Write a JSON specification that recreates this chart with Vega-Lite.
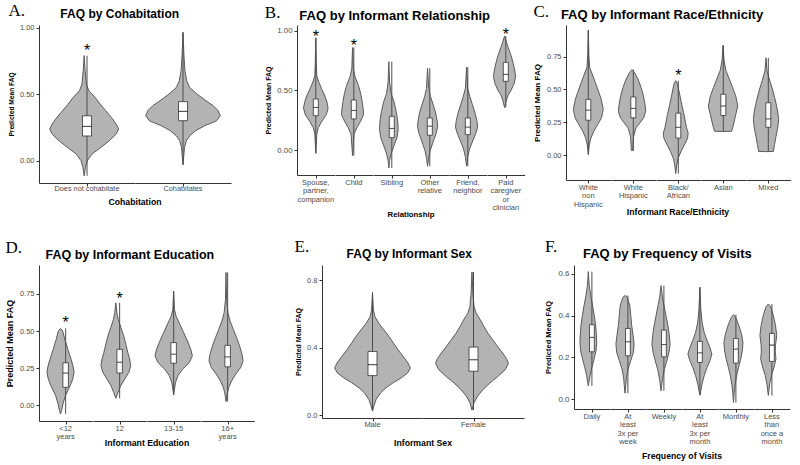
{
  "$schema": "https://vega.github.io/schema/vega-lite/v6.json",
  "background": "white",
  "padding": {"left": 5, "top": 1, "right": 4, "bottom": 0},
  "datasets": {
    "A": [
      {"c":"Does not cohabitate","y":-0.113,"w":0},{"c":"Does not cohabitate","y":-0.05,"w":0.033},{"c":"Does not cohabitate","y":0,"w":0.083},{"c":"Does not cohabitate","y":0.05,"w":0.209},{"c":"Does not cohabitate","y":0.1,"w":0.446},{"c":"Does not cohabitate","y":0.15,"w":0.672},{"c":"Does not cohabitate","y":0.2,"w":0.856},{"c":"Does not cohabitate","y":0.238,"w":0.924},{"c":"Does not cohabitate","y":0.276,"w":0.856},{"c":"Does not cohabitate","y":0.326,"w":0.73},{"c":"Does not cohabitate","y":0.376,"w":0.579},{"c":"Does not cohabitate","y":0.426,"w":0.428},{"c":"Does not cohabitate","y":0.476,"w":0.295},{"c":"Does not cohabitate","y":0.526,"w":0.126},{"c":"Does not cohabitate","y":0.576,"w":0.058},{"c":"Does not cohabitate","y":0.677,"w":0.025},{"c":"Does not cohabitate","y":0.79,"w":0},
      {"c":"Cohabitates","y":-0.03,"w":0},{"c":"Cohabitates","y":0.101,"w":0.04},{"c":"Cohabitates","y":0.151,"w":0.09},{"c":"Cohabitates","y":0.188,"w":0.18},{"c":"Cohabitates","y":0.226,"w":0.34},{"c":"Cohabitates","y":0.263,"w":0.58},{"c":"Cohabitates","y":0.3,"w":0.9},{"c":"Cohabitates","y":0.338,"w":1},{"c":"Cohabitates","y":0.377,"w":0.94},{"c":"Cohabitates","y":0.414,"w":0.81},{"c":"Cohabitates","y":0.45,"w":0.62},{"c":"Cohabitates","y":0.5,"w":0.38},{"c":"Cohabitates","y":0.55,"w":0.18},{"c":"Cohabitates","y":0.6,"w":0.1},{"c":"Cohabitates","y":0.678,"w":0.05},{"c":"Cohabitates","y":0.8,"w":0.024},{"c":"Cohabitates","y":0.965,"w":0},
      {"c":"Does not cohabitate","q1":0.186,"med":0.258,"q3":0.338,"lo":-0.113,"hi":0.79,"star":0.857},
      {"c":"Cohabitates","q1":0.301,"med":0.371,"q3":0.444,"lo":-0.03,"hi":0.965}
    ],
    "B": [
      {"c":"Spouse, partner, companion","y":-0.027,"w":0},{"c":"Spouse, partner, companion","y":0.132,"w":0.078},{"c":"Spouse, partner, companion","y":0.187,"w":0.198},{"c":"Spouse, partner, companion","y":0.242,"w":0.497},{"c":"Spouse, partner, companion","y":0.297,"w":0.856},{"c":"Spouse, partner, companion","y":0.352,"w":1},{"c":"Spouse, partner, companion","y":0.407,"w":0.898},{"c":"Spouse, partner, companion","y":0.462,"w":0.701},{"c":"Spouse, partner, companion","y":0.516,"w":0.461},{"c":"Spouse, partner, companion","y":0.571,"w":0.24},{"c":"Spouse, partner, companion","y":0.626,"w":0.078},{"c":"Spouse, partner, companion","y":0.736,"w":0.042},{"c":"Spouse, partner, companion","y":0.942,"w":0},
      {"c":"Child","y":-0.047,"w":0},{"c":"Child","y":0.133,"w":0.12},{"c":"Child","y":0.188,"w":0.359},{"c":"Child","y":0.243,"w":0.659},{"c":"Child","y":0.298,"w":0.898},{"c":"Child","y":0.353,"w":0.856},{"c":"Child","y":0.408,"w":0.778},{"c":"Child","y":0.475,"w":0.659},{"c":"Child","y":0.544,"w":0.479},{"c":"Child","y":0.613,"w":0.21},{"c":"Child","y":0.681,"w":0.06},{"c":"Child","y":0.86,"w":0},
      {"c":"Sibling","y":-0.151,"w":0},{"c":"Sibling","y":-0.088,"w":0.06},{"c":"Sibling","y":-0.033,"w":0.18},{"c":"Sibling","y":0.036,"w":0.419},{"c":"Sibling","y":0.104,"w":0.659},{"c":"Sibling","y":0.173,"w":0.76},{"c":"Sibling","y":0.244,"w":0.719},{"c":"Sibling","y":0.324,"w":0.599},{"c":"Sibling","y":0.406,"w":0.419},{"c":"Sibling","y":0.476,"w":0.18},{"c":"Sibling","y":0.572,"w":0.06},{"c":"Sibling","y":0.742,"w":0},
      {"c":"Other relative","y":-0.137,"w":0},{"c":"Other relative","y":-0.074,"w":0.078},{"c":"Other relative","y":-0.005,"w":0.21},{"c":"Other relative","y":0.077,"w":0.479},{"c":"Other relative","y":0.146,"w":0.719},{"c":"Other relative","y":0.2,"w":0.82},{"c":"Other relative","y":0.245,"w":0.778},{"c":"Other relative","y":0.31,"w":0.659},{"c":"Other relative","y":0.379,"w":0.461},{"c":"Other relative","y":0.448,"w":0.24},{"c":"Other relative","y":0.517,"w":0.09},{"c":"Other relative","y":0.687,"w":0},
      {"c":"Friend, neighbor","y":-0.136,"w":0},{"c":"Friend, neighbor","y":-0.06,"w":0.09},{"c":"Friend, neighbor","y":0.008,"w":0.24},{"c":"Friend, neighbor","y":0.078,"w":0.509},{"c":"Friend, neighbor","y":0.147,"w":0.778},{"c":"Friend, neighbor","y":0.192,"w":0.898},{"c":"Friend, neighbor","y":0.246,"w":0.838},{"c":"Friend, neighbor","y":0.311,"w":0.689},{"c":"Friend, neighbor","y":0.38,"w":0.479},{"c":"Friend, neighbor","y":0.449,"w":0.269},{"c":"Friend, neighbor","y":0.518,"w":0.09},{"c":"Friend, neighbor","y":0.695,"w":0},
      {"c":"Paid caregiver or clinician","y":0.357,"w":0},{"c":"Paid caregiver or clinician","y":0.42,"w":0.15},{"c":"Paid caregiver or clinician","y":0.463,"w":0.299},{"c":"Paid caregiver or clinician","y":0.503,"w":0.539},{"c":"Paid caregiver or clinician","y":0.558,"w":0.778},{"c":"Paid caregiver or clinician","y":0.614,"w":0.898},{"c":"Paid caregiver or clinician","y":0.654,"w":0.856},{"c":"Paid caregiver or clinician","y":0.723,"w":0.719},{"c":"Paid caregiver or clinician","y":0.791,"w":0.539},{"c":"Paid caregiver or clinician","y":0.861,"w":0.299},{"c":"Paid caregiver or clinician","y":0.915,"w":0.12},{"c":"Paid caregiver or clinician","y":0.956,"w":0},
      {"c":"Spouse, partner, companion","q1":0.288,"med":0.357,"q3":0.429,"lo":-0.027,"hi":0.942,"star":0.98},
      {"c":"Child","q1":0.261,"med":0.332,"q3":0.42,"lo":-0.047,"hi":0.86,"star":0.907},
      {"c":"Sibling","q1":0.104,"med":0.181,"q3":0.283,"lo":-0.151,"hi":0.742},
      {"c":"Other relative","q1":0.124,"med":0.2,"q3":0.269,"lo":-0.137,"hi":0.687},
      {"c":"Friend, neighbor","q1":0.129,"med":0.192,"q3":0.269,"lo":-0.136,"hi":0.695},
      {"c":"Paid caregiver or clinician","q1":0.577,"med":0.635,"q3":0.736,"lo":0.357,"hi":0.956,"star":0.997}
    ],
    "C": [
      {"c":"White non Hispanic","y":0.005,"w":0},{"c":"White non Hispanic","y":0.077,"w":0.067},{"c":"White non Hispanic","y":0.129,"w":0.171},{"c":"White non Hispanic","y":0.18,"w":0.363},{"c":"White non Hispanic","y":0.231,"w":0.622},{"c":"White non Hispanic","y":0.283,"w":0.881},{"c":"White non Hispanic","y":0.347,"w":1},{"c":"White non Hispanic","y":0.424,"w":0.865},{"c":"White non Hispanic","y":0.488,"w":0.674},{"c":"White non Hispanic","y":0.553,"w":0.466},{"c":"White non Hispanic","y":0.617,"w":0.259},{"c":"White non Hispanic","y":0.668,"w":0.088},{"c":"White non Hispanic","y":0.771,"w":0.036},{"c":"White non Hispanic","y":0.951,"w":0},
      {"c":"White Hispanic","y":0.031,"w":0},{"c":"White Hispanic","y":0.039,"w":0.052},{"c":"White Hispanic","y":0.078,"w":0.067},{"c":"White Hispanic","y":0.141,"w":0.104},{"c":"White Hispanic","y":0.206,"w":0.259},{"c":"White Hispanic","y":0.244,"w":0.518},{"c":"White Hispanic","y":0.284,"w":0.777},{"c":"White Hispanic","y":0.334,"w":0.917},{"c":"White Hispanic","y":0.386,"w":0.865},{"c":"White Hispanic","y":0.45,"w":0.762},{"c":"White Hispanic","y":0.514,"w":0.606},{"c":"White Hispanic","y":0.578,"w":0.399},{"c":"White Hispanic","y":0.63,"w":0.155},{"c":"White Hispanic","y":0.65,"w":0},
      {"c":"Black/African","y":-0.141,"w":0},{"c":"Black/African","y":-0.077,"w":0.067},{"c":"Black/African","y":-0.026,"w":0.155},{"c":"Black/African","y":0.026,"w":0.347},{"c":"Black/African","y":0.076,"w":0.57},{"c":"Black/African","y":0.128,"w":0.793},{"c":"Black/African","y":0.167,"w":0.829},{"c":"Black/African","y":0.207,"w":0.725},{"c":"Black/African","y":0.257,"w":0.637},{"c":"Black/African","y":0.308,"w":0.554},{"c":"Black/African","y":0.385,"w":0.399},{"c":"Black/African","y":0.463,"w":0.259},{"c":"Black/African","y":0.54,"w":0.119},{"c":"Black/African","y":0.566,"w":0},
      {"c":"Asian","y":0.18,"w":0},{"c":"Asian","y":0.181,"w":0.57},{"c":"Asian","y":0.211,"w":0.65},{"c":"Asian","y":0.258,"w":0.75},{"c":"Asian","y":0.309,"w":0.85},{"c":"Asian","y":0.373,"w":0.984},{"c":"Asian","y":0.451,"w":0.845},{"c":"Asian","y":0.515,"w":0.637},{"c":"Asian","y":0.579,"w":0.415},{"c":"Asian","y":0.643,"w":0.192},{"c":"Asian","y":0.72,"w":0.067},{"c":"Asian","y":0.835,"w":0},
      {"c":"Mixed","y":0.026,"w":0},{"c":"Mixed","y":0.027,"w":0.49},{"c":"Mixed","y":0.079,"w":0.57},{"c":"Mixed","y":0.142,"w":0.67},{"c":"Mixed","y":0.205,"w":0.78},{"c":"Mixed","y":0.27,"w":0.845},{"c":"Mixed","y":0.335,"w":0.777},{"c":"Mixed","y":0.411,"w":0.637},{"c":"Mixed","y":0.487,"w":0.466},{"c":"Mixed","y":0.565,"w":0.259},{"c":"Mixed","y":0.642,"w":0.067},{"c":"Mixed","y":0.74,"w":0},
      {"c":"White non Hispanic","q1":0.265,"med":0.342,"q3":0.424,"lo":0.005,"hi":0.951},
      {"c":"White Hispanic","q1":0.283,"med":0.355,"q3":0.442,"lo":0.031,"hi":0.65},
      {"c":"Black/African","q1":0.129,"med":0.211,"q3":0.319,"lo":-0.141,"hi":0.566,"star":0.63},
      {"c":"Asian","q1":0.301,"med":0.373,"q3":0.463,"lo":0.18,"hi":0.835},
      {"c":"Mixed","q1":0.211,"med":0.275,"q3":0.398,"lo":0.026,"hi":0.74}
    ],
    "D": [
      {"c":"<12 years","y":-0.058,"w":0},{"c":"<12 years","y":-0.036,"w":0.057},{"c":"<12 years","y":0.009,"w":0.13},{"c":"<12 years","y":0.065,"w":0.261},{"c":"<12 years","y":0.121,"w":0.478},{"c":"<12 years","y":0.176,"w":0.652},{"c":"<12 years","y":0.221,"w":0.726},{"c":"<12 years","y":0.266,"w":0.665},{"c":"<12 years","y":0.31,"w":0.565},{"c":"<12 years","y":0.377,"w":0.391},{"c":"<12 years","y":0.444,"w":0.23},{"c":"<12 years","y":0.5,"w":0.117},{"c":"<12 years","y":0.518,"w":0},
      {"c":"12","y":0.047,"w":0},{"c":"12","y":0.087,"w":0.117},{"c":"12","y":0.132,"w":0.261},{"c":"12","y":0.177,"w":0.478},{"c":"12","y":0.222,"w":0.696},{"c":"12","y":0.267,"w":0.796},{"c":"12","y":0.311,"w":0.739},{"c":"12","y":0.355,"w":0.639},{"c":"12","y":0.411,"w":0.535},{"c":"12","y":0.467,"w":0.422},{"c":"12","y":0.522,"w":0.274},{"c":"12","y":0.578,"w":0.13},{"c":"12","y":0.623,"w":0.057},{"c":"12","y":0.69,"w":0},
      {"c":"13-15","y":0.069,"w":0},{"c":"13-15","y":0.109,"w":0.043},{"c":"13-15","y":0.154,"w":0.1},{"c":"13-15","y":0.199,"w":0.23},{"c":"13-15","y":0.243,"w":0.478},{"c":"13-15","y":0.288,"w":0.839},{"c":"13-15","y":0.333,"w":1},{"c":"13-15","y":0.378,"w":0.913},{"c":"13-15","y":0.433,"w":0.739},{"c":"13-15","y":0.489,"w":0.535},{"c":"13-15","y":0.545,"w":0.335},{"c":"13-15","y":0.6,"w":0.13},{"c":"13-15","y":0.645,"w":0.043},{"c":"13-15","y":0.768,"w":0},
      {"c":"16+ years","y":0.025,"w":0},{"c":"16+ years","y":0.076,"w":0.057},{"c":"16+ years","y":0.12,"w":0.143},{"c":"16+ years","y":0.165,"w":0.304},{"c":"16+ years","y":0.21,"w":0.522},{"c":"16+ years","y":0.254,"w":0.783},{"c":"16+ years","y":0.299,"w":0.913},{"c":"16+ years","y":0.344,"w":0.857},{"c":"16+ years","y":0.4,"w":0.726},{"c":"16+ years","y":0.455,"w":0.565},{"c":"16+ years","y":0.511,"w":0.391},{"c":"16+ years","y":0.567,"w":0.217},{"c":"16+ years","y":0.624,"w":0.1},{"c":"16+ years","y":0.712,"w":0.03},{"c":"16+ years","y":0.895,"w":0},
      {"c":"<12 years","q1":0.121,"med":0.217,"q3":0.286,"lo":-0.058,"hi":0.518,"star":0.583},
      {"c":"12","q1":0.217,"med":0.29,"q3":0.377,"lo":0.047,"hi":0.69,"star":0.746},
      {"c":"13-15","q1":0.283,"med":0.344,"q3":0.422,"lo":0.069,"hi":0.768},
      {"c":"16+ years","q1":0.259,"med":0.326,"q3":0.404,"lo":0.025,"hi":0.895}
    ],
    "E": [
      {"c":"Male","y":0.025,"w":0},{"c":"Male","y":0.055,"w":0.036},{"c":"Male","y":0.094,"w":0.095},{"c":"Male","y":0.133,"w":0.214},{"c":"Male","y":0.163,"w":0.357},{"c":"Male","y":0.193,"w":0.548},{"c":"Male","y":0.222,"w":0.762},{"c":"Male","y":0.251,"w":0.929},{"c":"Male","y":0.28,"w":1},{"c":"Male","y":0.31,"w":0.936},{"c":"Male","y":0.349,"w":0.81},{"c":"Male","y":0.388,"w":0.674},{"c":"Male","y":0.427,"w":0.555},{"c":"Male","y":0.467,"w":0.436},{"c":"Male","y":0.506,"w":0.302},{"c":"Male","y":0.545,"w":0.167},{"c":"Male","y":0.584,"w":0.064},{"c":"Male","y":0.624,"w":0.024},{"c":"Male","y":0.727,"w":0},
      {"c":"Female","y":0.031,"w":0},{"c":"Female","y":0.075,"w":0.055},{"c":"Female","y":0.114,"w":0.15},{"c":"Female","y":0.153,"w":0.293},{"c":"Female","y":0.192,"w":0.476},{"c":"Female","y":0.231,"w":0.69},{"c":"Female","y":0.271,"w":0.881},{"c":"Female","y":0.306,"w":0.96},{"c":"Female","y":0.329,"w":0.929},{"c":"Female","y":0.369,"w":0.81},{"c":"Female","y":0.408,"w":0.674},{"c":"Female","y":0.447,"w":0.548},{"c":"Female","y":0.486,"w":0.421},{"c":"Female","y":0.525,"w":0.317},{"c":"Female","y":0.565,"w":0.221},{"c":"Female","y":0.604,"w":0.112},{"c":"Female","y":0.643,"w":0.055},{"c":"Female","y":0.722,"w":0.024},{"c":"Female","y":0.849,"w":0},
      {"c":"Male","q1":0.235,"med":0.3,"q3":0.378,"lo":0.025,"hi":0.727},
      {"c":"Female","q1":0.261,"med":0.329,"q3":0.404,"lo":0.031,"hi":0.849}
    ],
    "F": [
      {"c":"Daily","y":0.064,"w":0},{"c":"Daily","y":0.112,"w":0.138},{"c":"Daily","y":0.152,"w":0.299},{"c":"Daily","y":0.192,"w":0.479},{"c":"Daily","y":0.232,"w":0.641},{"c":"Daily","y":0.272,"w":0.701},{"c":"Daily","y":0.304,"w":0.677},{"c":"Daily","y":0.352,"w":0.617},{"c":"Daily","y":0.4,"w":0.497},{"c":"Daily","y":0.448,"w":0.359},{"c":"Daily","y":0.496,"w":0.198},{"c":"Daily","y":0.544,"w":0.078},{"c":"Daily","y":0.611,"w":0},
      {"c":"At least 3x per week","y":0.029,"w":0},{"c":"At least 3x per week","y":0.065,"w":0.06},{"c":"At least 3x per week","y":0.105,"w":0.12},{"c":"At least 3x per week","y":0.145,"w":0.257},{"c":"At least 3x per week","y":0.185,"w":0.479},{"c":"At least 3x per week","y":0.225,"w":0.701},{"c":"At least 3x per week","y":0.265,"w":0.76},{"c":"At least 3x per week","y":0.305,"w":0.677},{"c":"At least 3x per week","y":0.353,"w":0.557},{"c":"At least 3x per week","y":0.401,"w":0.479},{"c":"At least 3x per week","y":0.449,"w":0.401},{"c":"At least 3x per week","y":0.488,"w":0.18},{"c":"At least 3x per week","y":0.497,"w":0},
      {"c":"Weekly","y":0.04,"w":0},{"c":"Weekly","y":0.096,"w":0.12},{"c":"Weekly","y":0.143,"w":0.281},{"c":"Weekly","y":0.183,"w":0.479},{"c":"Weekly","y":0.223,"w":0.659},{"c":"Weekly","y":0.263,"w":0.76},{"c":"Weekly","y":0.303,"w":0.701},{"c":"Weekly","y":0.351,"w":0.581},{"c":"Weekly","y":0.399,"w":0.419},{"c":"Weekly","y":0.447,"w":0.257},{"c":"Weekly","y":0.487,"w":0.12},{"c":"Weekly","y":0.544,"w":0},
      {"c":"At least 3x per month","y":0.019,"w":0},{"c":"At least 3x per month","y":0.041,"w":0.078},{"c":"At least 3x per month","y":0.073,"w":0.18},{"c":"At least 3x per month","y":0.113,"w":0.359},{"c":"At least 3x per month","y":0.153,"w":0.599},{"c":"At least 3x per month","y":0.184,"w":0.838},{"c":"At least 3x per month","y":0.216,"w":1},{"c":"At least 3x per month","y":0.248,"w":0.838},{"c":"At least 3x per month","y":0.281,"w":0.599},{"c":"At least 3x per month","y":0.32,"w":0.359},{"c":"At least 3x per month","y":0.368,"w":0.18},{"c":"At least 3x per month","y":0.432,"w":0.078},{"c":"At least 3x per month","y":0.536,"w":0},
      {"c":"Monthly","y":-0.016,"w":0},{"c":"Monthly","y":0.032,"w":0.06},{"c":"Monthly","y":0.071,"w":0.138},{"c":"Monthly","y":0.111,"w":0.257},{"c":"Monthly","y":0.151,"w":0.419},{"c":"Monthly","y":0.191,"w":0.599},{"c":"Monthly","y":0.231,"w":0.737},{"c":"Monthly","y":0.271,"w":0.796},{"c":"Monthly","y":0.311,"w":0.677},{"c":"Monthly","y":0.352,"w":0.461},{"c":"Monthly","y":0.392,"w":0.18},{"c":"Monthly","y":0.405,"w":0},
      {"c":"Less than once a month","y":0.018,"w":0},{"c":"Less than once a month","y":0.074,"w":0.12},{"c":"Less than once a month","y":0.114,"w":0.257},{"c":"Less than once a month","y":0.154,"w":0.479},{"c":"Less than once a month","y":0.194,"w":0.641},{"c":"Less than once a month","y":0.226,"w":0.581},{"c":"Less than once a month","y":0.258,"w":0.599},{"c":"Less than once a month","y":0.306,"w":0.701},{"c":"Less than once a month","y":0.354,"w":0.599},{"c":"Less than once a month","y":0.402,"w":0.419},{"c":"Less than once a month","y":0.442,"w":0.198},{"c":"Less than once a month","y":0.456,"w":0},
      {"c":"Daily","q1":0.227,"med":0.296,"q3":0.357,"lo":0.064,"hi":0.611},
      {"c":"At least 3x per week","q1":0.208,"med":0.275,"q3":0.339,"lo":0.029,"hi":0.497},
      {"c":"Weekly","q1":0.203,"med":0.262,"q3":0.331,"lo":0.04,"hi":0.544},
      {"c":"At least 3x per month","q1":0.176,"med":0.222,"q3":0.277,"lo":0.019,"hi":0.536},
      {"c":"Monthly","q1":0.173,"med":0.24,"q3":0.291,"lo":-0.016,"hi":0.405},
      {"c":"Less than once a month","q1":0.181,"med":0.259,"q3":0.315,"lo":0.018,"hi":0.456}
    ]
  },
  "vconcat": [
    {
      "spacing": 33,
      "hconcat": [
        {
          "title": {"text": "A.", "font": "Liberation Serif", "fontSize": 17, "fontWeight": "normal", "anchor": "start", "offset": -12},
          "vconcat": [{
            "data": {"name": "A"},
            "title": {"text": "FAQ by Cohabitation", "fontSize": 12, "anchor": "middle", "offset": 3},
            "spacing": 0,
            "facet": {"column": {"field": "c", "type": "nominal", "title": "Cohabitation", "sort": ["Does not cohabitate", "Cohabitates"],
              "header": {"labelOrient": "bottom", "titleOrient": "bottom", "labelPadding": -2, "labelFontSize": 7.3, "labelColor": "#4d4d4d", "titleFontSize": 8.7, "titleFontWeight": "bold", "titlePadding": -4}}},
            "spec": {
              "width": 96, "height": 158,
              "layer": [
                {"transform": [{"filter": "isValid(datum.w)"}],
                 "mark": {"type": "area", "orient": "horizontal", "fill": "#b3b3b3", "stroke": "#5a5a5a", "strokeWidth": 1},
                 "encoding": {
                   "y": {"field": "y", "type": "quantitative", "title": "Predicted Mean FAQ", "scale": {"domain": [-0.167, 1.02], "nice": false, "zero": false}, "axis": {"values": [0, 0.25, 0.5, 0.75, 1], "format": ".2f", "titleFontSize": 6.6}},
                   "x": {"field": "w", "type": "quantitative", "stack": "center", "impute": null, "title": null, "scale": {"domain": [-0.076, 1.076], "nice": false, "zero": false}, "axis": {"values": [0.5], "labels": false, "grid": false, "ticks": true}}}},
                {"transform": [{"filter": "isValid(datum.q1)"}], "mark": {"type": "rule", "color": "#4d4d4d", "strokeWidth": 1},
                 "encoding": {"x": {"datum": 0.5, "type": "quantitative", "title": null}, "y": {"field": "lo", "type": "quantitative", "title": "Predicted Mean FAQ"}, "y2": {"field": "hi"}}},
                {"transform": [{"filter": "isValid(datum.q1)"}], "mark": {"type": "bar", "size": 9, "fill": "white", "stroke": "#333333", "strokeWidth": 0.8},
                 "encoding": {"x": {"datum": 0.5, "type": "quantitative", "title": null}, "y": {"field": "q1", "type": "quantitative", "title": "Predicted Mean FAQ"}, "y2": {"field": "q3"}}},
                {"transform": [{"filter": "isValid(datum.q1)"}], "mark": {"type": "tick", "orient": "horizontal", "size": 9, "thickness": 1.2, "color": "#111111"},
                 "encoding": {"x": {"datum": 0.5, "type": "quantitative", "title": null}, "y": {"field": "med", "type": "quantitative", "title": "Predicted Mean FAQ"}}},
                {"transform": [{"filter": "isValid(datum.star)"}], "mark": {"type": "text", "text": "*", "fontSize": 16, "baseline": "middle", "dy": 4, "color": "#000000"},
                 "encoding": {"x": {"datum": 0.5, "type": "quantitative", "title": null}, "y": {"field": "star", "type": "quantitative", "title": "Predicted Mean FAQ"}}}
              ]
            }
          }]
        },
        {
          "spacing": 8,
          "hconcat": [
            {
              "title": {"text": "B.", "font": "Liberation Serif", "fontSize": 17, "fontWeight": "normal", "anchor": "start", "offset": -12},
              "vconcat": [{
                "data": {"name": "B"},
                "title": {"text": "FAQ by Informant Relationship", "fontSize": 13, "anchor": "middle", "offset": 2},
                "spacing": 0,
                "facet": {"column": {"field": "c", "type": "nominal", "title": "Relationship", "sort": ["Spouse, partner, companion", "Child", "Sibling", "Other relative", "Friend, neighbor", "Paid caregiver or clinician"],
                  "header": {"labelOrient": "bottom", "titleOrient": "bottom", "labelPadding": 0, "labelFontSize": 7.5, "labelColor": "#4d4d4d", "labelLineHeight": 8.5, "labelExpr": "split(datum.label, ' ')", "titleFontSize": 7.8, "titleFontWeight": "bold", "titlePadding": -11}}},
                "spec": {
                  "width": 37.6, "height": 150,
                  "layer": [
                    {"transform": [{"filter": "isValid(datum.w)"}],
                     "mark": {"type": "area", "orient": "horizontal", "fill": "#b3b3b3", "stroke": "#5a5a5a", "strokeWidth": 1},
                     "encoding": {
                       "y": {"field": "y", "type": "quantitative", "title": "Predicted Mean FAQ", "scale": {"domain": [-0.21, 1.05], "nice": false, "zero": false}, "axis": {"values": [0, 0.25, 0.5, 0.75, 1], "format": ".2f", "titleFontSize": 7, "labelFontSize": 7.8}},
                       "x": {"field": "w", "type": "quantitative", "stack": "center", "impute": null, "title": null, "scale": {"domain": [-0.061, 1.061], "nice": false, "zero": false}, "axis": {"values": [0.5], "labels": false, "grid": false, "ticks": true}}}},
                    {"transform": [{"filter": "isValid(datum.q1)"}], "mark": {"type": "rule", "color": "#4d4d4d", "strokeWidth": 1},
                     "encoding": {"x": {"datum": 0.5, "type": "quantitative", "title": null}, "y": {"field": "lo", "type": "quantitative", "title": "Predicted Mean FAQ"}, "y2": {"field": "hi"}}},
                    {"transform": [{"filter": "isValid(datum.q1)"}], "mark": {"type": "bar", "size": 5, "fill": "white", "stroke": "#333333", "strokeWidth": 0.8},
                     "encoding": {"x": {"datum": 0.5, "type": "quantitative", "title": null}, "y": {"field": "q1", "type": "quantitative", "title": "Predicted Mean FAQ"}, "y2": {"field": "q3"}}},
                    {"transform": [{"filter": "isValid(datum.q1)"}], "mark": {"type": "tick", "orient": "horizontal", "size": 5, "thickness": 1.1, "color": "#111111"},
                     "encoding": {"x": {"datum": 0.5, "type": "quantitative", "title": null}, "y": {"field": "med", "type": "quantitative", "title": "Predicted Mean FAQ"}}},
                    {"transform": [{"filter": "isValid(datum.star)"}], "mark": {"type": "text", "text": "*", "fontSize": 16, "baseline": "middle", "dy": 4, "color": "#000000"},
                     "encoding": {"x": {"datum": 0.5, "type": "quantitative", "title": null}, "y": {"field": "star", "type": "quantitative", "title": "Predicted Mean FAQ"}}}
                  ]
                }
              }]
            },
            {
              "title": {"text": "C.", "font": "Liberation Serif", "fontSize": 17, "fontWeight": "normal", "anchor": "start", "offset": -12},
              "vconcat": [{
                "data": {"name": "C"},
                "title": {"text": "FAQ by Informant Race/Ethnicity", "fontSize": 13, "anchor": "middle", "offset": 3},
                "spacing": 0,
                "facet": {"column": {"field": "c", "type": "nominal", "title": "Informant Race/Ethnicity", "sort": ["White non Hispanic", "White Hispanic", "Black/African", "Asian", "Mixed"],
                  "header": {"labelOrient": "bottom", "titleOrient": "bottom", "labelPadding": 0, "labelFontSize": 7.5, "labelColor": "#4d4d4d", "labelLineHeight": 8.5, "labelExpr": "split(replace(datum.label, '/', '/ '), ' ')", "titleFontSize": 8.7, "titleFontWeight": "bold", "titlePadding": -10}}},
                "spec": {
                  "width": 44.6, "height": 155,
                  "layer": [
                    {"transform": [{"filter": "isValid(datum.w)"}],
                     "mark": {"type": "area", "orient": "horizontal", "fill": "#b3b3b3", "stroke": "#5a5a5a", "strokeWidth": 1},
                     "encoding": {
                       "y": {"field": "y", "type": "quantitative", "title": "Predicted Mean FAQ", "scale": {"domain": [-0.19, 0.99], "nice": false, "zero": false}, "axis": {"values": [0, 0.25, 0.5, 0.75], "format": ".2f", "titleFontSize": 8}},
                       "x": {"field": "w", "type": "quantitative", "stack": "center", "impute": null, "title": null, "scale": {"domain": [-0.078, 1.078], "nice": false, "zero": false}, "axis": {"values": [0.5], "labels": false, "grid": false, "ticks": true}}}},
                    {"transform": [{"filter": "isValid(datum.q1)"}], "mark": {"type": "rule", "color": "#4d4d4d", "strokeWidth": 1},
                     "encoding": {"x": {"datum": 0.5, "type": "quantitative", "title": null}, "y": {"field": "lo", "type": "quantitative", "title": "Predicted Mean FAQ"}, "y2": {"field": "hi"}}},
                    {"transform": [{"filter": "isValid(datum.q1)"}], "mark": {"type": "bar", "size": 5, "fill": "white", "stroke": "#333333", "strokeWidth": 0.8},
                     "encoding": {"x": {"datum": 0.5, "type": "quantitative", "title": null}, "y": {"field": "q1", "type": "quantitative", "title": "Predicted Mean FAQ"}, "y2": {"field": "q3"}}},
                    {"transform": [{"filter": "isValid(datum.q1)"}], "mark": {"type": "tick", "orient": "horizontal", "size": 5, "thickness": 1.1, "color": "#111111"},
                     "encoding": {"x": {"datum": 0.5, "type": "quantitative", "title": null}, "y": {"field": "med", "type": "quantitative", "title": "Predicted Mean FAQ"}}},
                    {"transform": [{"filter": "isValid(datum.star)"}], "mark": {"type": "text", "text": "*", "fontSize": 16, "baseline": "middle", "dy": 4, "color": "#000000"},
                     "encoding": {"x": {"datum": 0.5, "type": "quantitative", "title": null}, "y": {"field": "star", "type": "quantitative", "title": "Predicted Mean FAQ"}}}
                  ]
                }
              }]
            }
          ]
        }
      ]
    },
    {
      "spacing": 39,
      "hconcat": [
        {
          "title": {"text": "D.", "font": "Liberation Serif", "fontSize": 17, "fontWeight": "normal", "anchor": "start", "offset": -8},
          "vconcat": [{
            "data": {"name": "D"},
            "title": {"text": "FAQ by Informant Education", "fontSize": 12.5, "anchor": "middle", "offset": 4},
            "spacing": 0,
            "facet": {"column": {"field": "c", "type": "nominal", "title": "Informant Education", "sort": ["<12 years", "12", "13-15", "16+ years"],
              "header": {"labelOrient": "bottom", "titleOrient": "bottom", "labelPadding": 0, "labelFontSize": 7.5, "labelColor": "#4d4d4d", "labelLineHeight": 8.5, "labelExpr": "split(datum.label, ' ')", "titleFontSize": 8.7, "titleFontWeight": "bold", "titlePadding": -12}}},
            "spec": {
              "width": 53.3, "height": 156,
              "layer": [
                {"transform": [{"filter": "isValid(datum.w)"}],
                 "mark": {"type": "area", "orient": "horizontal", "fill": "#b3b3b3", "stroke": "#5a5a5a", "strokeWidth": 1},
                 "encoding": {
                   "y": {"field": "y", "type": "quantitative", "title": "Predicted Mean FAQ", "scale": {"domain": [-0.106, 0.945], "nice": false, "zero": false}, "axis": {"values": [0, 0.25, 0.5, 0.75], "format": ".2f", "titleFontSize": 9}},
                   "x": {"field": "w", "type": "quantitative", "stack": "center", "impute": null, "title": null, "scale": {"domain": [-0.079, 1.079], "nice": false, "zero": false}, "axis": {"values": [0.5], "labels": false, "grid": false, "ticks": true}}}},
                {"transform": [{"filter": "isValid(datum.q1)"}], "mark": {"type": "rule", "color": "#4d4d4d", "strokeWidth": 1},
                 "encoding": {"x": {"datum": 0.5, "type": "quantitative", "title": null}, "y": {"field": "lo", "type": "quantitative", "title": "Predicted Mean FAQ"}, "y2": {"field": "hi"}}},
                {"transform": [{"filter": "isValid(datum.q1)"}], "mark": {"type": "bar", "size": 5.5, "fill": "white", "stroke": "#333333", "strokeWidth": 0.8},
                 "encoding": {"x": {"datum": 0.5, "type": "quantitative", "title": null}, "y": {"field": "q1", "type": "quantitative", "title": "Predicted Mean FAQ"}, "y2": {"field": "q3"}}},
                {"transform": [{"filter": "isValid(datum.q1)"}], "mark": {"type": "tick", "orient": "horizontal", "size": 5.5, "thickness": 1.1, "color": "#111111"},
                 "encoding": {"x": {"datum": 0.5, "type": "quantitative", "title": null}, "y": {"field": "med", "type": "quantitative", "title": "Predicted Mean FAQ"}}},
                {"transform": [{"filter": "isValid(datum.star)"}], "mark": {"type": "text", "text": "*", "fontSize": 16, "baseline": "middle", "dy": 4, "color": "#000000"},
                 "encoding": {"x": {"datum": 0.5, "type": "quantitative", "title": null}, "y": {"field": "star", "type": "quantitative", "title": "Predicted Mean FAQ"}}}
              ]
            }
          }]
        },
        {
          "spacing": 20,
          "hconcat": [
            {
              "title": {"text": "E.", "font": "Liberation Serif", "fontSize": 17, "fontWeight": "normal", "anchor": "start", "offset": -8},
              "vconcat": [{
                "data": {"name": "E"},
                "title": {"text": "FAQ by Informant Sex", "fontSize": 12, "anchor": "middle", "offset": 4},
                "spacing": 0,
                "facet": {"column": {"field": "c", "type": "nominal", "title": "Informant Sex", "sort": ["Male", "Female"],
                  "header": {"labelOrient": "bottom", "titleOrient": "bottom", "labelPadding": -1, "labelFontSize": 7.5, "labelColor": "#4d4d4d", "titleFontSize": 8.7, "titleFontWeight": "bold", "titlePadding": 1}}},
                "spec": {
                  "width": 101, "height": 153,
                  "layer": [
                    {"transform": [{"filter": "isValid(datum.w)"}],
                     "mark": {"type": "area", "orient": "horizontal", "fill": "#b3b3b3", "stroke": "#5a5a5a", "strokeWidth": 1},
                     "encoding": {
                       "y": {"field": "y", "type": "quantitative", "title": "Predicted Mean FAQ", "scale": {"domain": [-0.016, 0.89], "nice": false, "zero": false}, "axis": {"values": [0, 0.2, 0.4, 0.6, 0.8], "format": ".1f", "titleFontSize": 7}},
                       "x": {"field": "w", "type": "quantitative", "stack": "center", "impute": null, "title": null, "scale": {"domain": [-0.101, 1.101], "nice": false, "zero": false}, "axis": {"values": [0.5], "labels": false, "grid": false, "ticks": true}}}},
                    {"transform": [{"filter": "isValid(datum.q1)"}], "mark": {"type": "rule", "color": "#4d4d4d", "strokeWidth": 1},
                     "encoding": {"x": {"datum": 0.5, "type": "quantitative", "title": null}, "y": {"field": "lo", "type": "quantitative", "title": "Predicted Mean FAQ"}, "y2": {"field": "hi"}}},
                    {"transform": [{"filter": "isValid(datum.q1)"}], "mark": {"type": "bar", "size": 9, "fill": "white", "stroke": "#333333", "strokeWidth": 0.8},
                     "encoding": {"x": {"datum": 0.5, "type": "quantitative", "title": null}, "y": {"field": "q1", "type": "quantitative", "title": "Predicted Mean FAQ"}, "y2": {"field": "q3"}}},
                    {"transform": [{"filter": "isValid(datum.q1)"}], "mark": {"type": "tick", "orient": "horizontal", "size": 9, "thickness": 1.2, "color": "#111111"},
                     "encoding": {"x": {"datum": 0.5, "type": "quantitative", "title": null}, "y": {"field": "med", "type": "quantitative", "title": "Predicted Mean FAQ"}}}
                  ]
                }
              }]
            },
            {
              "title": {"text": "F.", "font": "Liberation Serif", "fontSize": 17, "fontWeight": "normal", "anchor": "start", "offset": -8},
              "vconcat": [{
                "data": {"name": "F"},
                "title": {"text": "FAQ by Frequency of Visits", "fontSize": 13, "anchor": "middle", "offset": 4},
                "spacing": 0,
                "facet": {"column": {"field": "c", "type": "nominal", "title": "Frequency of Visits", "sort": ["Daily", "At least 3x per week", "Weekly", "At least 3x per month", "Monthly", "Less than once a month"],
                  "header": {"labelOrient": "bottom", "titleOrient": "bottom", "labelPadding": 0, "labelFontSize": 7.5, "labelColor": "#4d4d4d", "labelLineHeight": 8.5, "labelExpr": "split(replace(replace(datum.label, '3x per', '3x\u00a0per'), 'once a', 'once\u00a0a'), ' ')", "titleFontSize": 8.7, "titleFontWeight": "bold", "titlePadding": -4}}},
                "spec": {
                  "width": 35.8, "height": 144,
                  "layer": [
                    {"transform": [{"filter": "isValid(datum.w)"}],
                     "mark": {"type": "area", "orient": "horizontal", "fill": "#b3b3b3", "stroke": "#5a5a5a", "strokeWidth": 1},
                     "encoding": {
                       "y": {"field": "y", "type": "quantitative", "title": "Predicted Mean FAQ", "scale": {"domain": [-0.047, 0.643], "nice": false, "zero": false}, "axis": {"values": [0, 0.2, 0.4, 0.6], "format": ".1f", "titleFontSize": 7.5, "labelFontSize": 8}},
                       "x": {"field": "w", "type": "quantitative", "stack": "center", "impute": null, "title": null, "scale": {"domain": [-0.039, 1.039], "nice": false, "zero": false}, "axis": {"values": [0.5], "labels": false, "grid": false, "ticks": true}}}},
                    {"transform": [{"filter": "isValid(datum.q1)"}], "mark": {"type": "rule", "color": "#4d4d4d", "strokeWidth": 1},
                     "encoding": {"x": {"datum": 0.5, "type": "quantitative", "title": null}, "y": {"field": "lo", "type": "quantitative", "title": "Predicted Mean FAQ"}, "y2": {"field": "hi"}}},
                    {"transform": [{"filter": "isValid(datum.q1)"}], "mark": {"type": "bar", "size": 4.8, "fill": "white", "stroke": "#333333", "strokeWidth": 0.8},
                     "encoding": {"x": {"datum": 0.5, "type": "quantitative", "title": null}, "y": {"field": "q1", "type": "quantitative", "title": "Predicted Mean FAQ"}, "y2": {"field": "q3"}}},
                    {"transform": [{"filter": "isValid(datum.q1)"}], "mark": {"type": "tick", "orient": "horizontal", "size": 4.8, "thickness": 1.1, "color": "#111111"},
                     "encoding": {"x": {"datum": 0.5, "type": "quantitative", "title": null}, "y": {"field": "med", "type": "quantitative", "title": "Predicted Mean FAQ"}}}
                  ]
                }
              }]
            }
          ]
        }
      ]
    }
  ],
  "spacing": 19,
  "config": {
    "font": "Liberation Sans",
    "view": {"stroke": null},
    "title": {"font": "Liberation Sans", "fontWeight": "bold", "color": "#000000"},
    "header": {"labelFont": "Liberation Sans", "titleFont": "Liberation Sans", "titleColor": "#000000"},
    "axis": {"domainColor": "#333333", "tickColor": "#333333", "labelColor": "#4d4d4d", "labelFontSize": 7.5, "titleFontSize": 7, "titleFontWeight": "bold", "titleColor": "#000000", "grid": false, "tickSize": 3, "labelPadding": 2, "titlePadding": 5, "labelFont": "Liberation Sans", "titleFont": "Liberation Sans"}
  }
}
